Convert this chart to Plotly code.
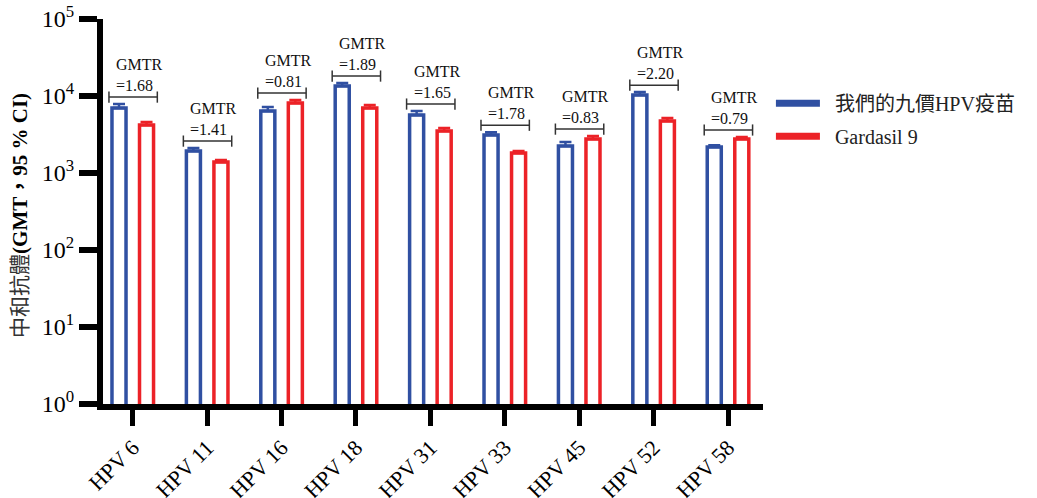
import numpy as np
import plotly.graph_objects as go

categories = ["HPV 6", "HPV 11", "HPV 16", "HPV 18", "HPV 31", "HPV 33", "HPV 45", "HPV 52", "HPV 58"]
ours_gmt = [6980, 1930, 6390, 13490, 5670, 3120, 2240, 10300, 2180]
ours_upper = [7870, 2110, 7190, 14750, 6390, 3390, 2520, 11240, 2300]
g9_gmt = [4200, 1390, 8110, 6980, 3510, 1820, 2760, 4730, 2760]
g9_upper = [4580, 1480, 8870, 7620, 3830, 1930, 3020, 5180, 2940]
gmtr = ["1.68", "1.41", "0.81", "1.89", "1.65", "1.78", "0.83", "2.20", "0.79"]
series_names = ["我們的九價HPV疫苗", "Gardasil 9"]
ytick_vals = [1, 10, 100, 1000, 10000, 100000]
ytick_text = ["10<sup>0</sup>", "10<sup>1</sup>", "10<sup>2</sup>", "10<sup>3</sup>", "10<sup>4</sup>", "10<sup>5</sup>"]
y_title = "<span style='color:#333'>中和抗體</span><b>(GMT，95 % CI)</b>"

BLUE = "#3050A2"
RED = "#EC2227"
SERIF = "Liberation Serif, Times New Roman, Noto Sans CJK TC, serif"

x = np.arange(len(categories))
ours = np.array(ours_gmt, float)
g9 = np.array(g9_gmt, float)
ours_err = np.array(ours_upper, float) - ours
g9_err = np.array(g9_upper, float) - g9

fig = go.Figure()
for k, (vals, err, col, name) in enumerate([(ours, ours_err, BLUE, series_names[0]), (g9, g9_err, RED, series_names[1])]):
    fig.add_trace(go.Bar(
        x=x, y=vals, name=name, showlegend=False,
        marker=dict(color="white", line=dict(color=col, width=3.5)),
        error_y=dict(type="data", symmetric=False, array=err, arrayminus=np.zeros_like(err),
                     color=col, thickness=2.5, width=6),
    ))
    fig.add_trace(go.Scatter(
        x=[None], y=[None], mode="lines", name="\u2002" + name, legendgroup=f"g{k}",
        line=dict(color=col, width=7),
    ))

# GMTR brackets
top = np.maximum(np.array(ours_upper, float), np.array(g9_upper, float))
bracket_y = top * 10 ** 0.09
for i in range(len(categories)):
    xl, xr = x[i] - 0.32, x[i] + 0.33
    fig.add_trace(go.Scatter(
        x=[xl, xr], y=[bracket_y[i], bracket_y[i]], mode="lines+markers",
        line=dict(color="#333333", width=1.5),
        marker=dict(symbol="line-ns-open", size=8, line=dict(color="#333333", width=1.5)),
        showlegend=False, hoverinfo="skip",
    ))
    fig.add_annotation(
        x=xl, y=np.log10(bracket_y[i]), xref="x", yref="y",
        text="GMTR<br>=" + gmtr[i], showarrow=False, align="left",
        xanchor="left", yanchor="bottom", xshift=5, yshift=1,
        font=dict(family=SERIF, size=16, color="#111111"),
    )

fig.add_annotation(
    x=-0.1258, y=0.491, xref="paper", yref="paper", text=y_title, textangle=-90,
    showarrow=False, xanchor="center", yanchor="middle",
    font=dict(family=SERIF, size=21, color="black"),
)

fig.update_layout(
    width=1037, height=498,
    margin=dict(l=103, r=274, t=19, b=94, autoexpand=False),
    plot_bgcolor="white", paper_bgcolor="white",
    barmode="group", bargap=0.26, bargroupgap=0.49,
    legend=dict(x=1.012, y=0.832, xanchor="left", yanchor="top",
                font=dict(family=SERIF, size=20, color="#222222"),
                tracegroupgap=4, itemwidth=44),
    showlegend=True,
)
fig.update_xaxes(
    range=[-0.40, 8.47], tickvals=x, ticktext=categories, tickangle=-45,
    showline=True, linecolor="black", linewidth=6, automargin=False,
    ticks="outside", ticklen=16, tickwidth=5, tickcolor="black",
    showgrid=False, zeroline=False, ticklabeloverflow="allow",
    tickfont=dict(family=SERIF, size=22, color="black"),
)
fig.update_yaxes(
    type="log", range=[0, 5], tickvals=ytick_vals, ticktext=ytick_text,
    showline=True, linecolor="black", linewidth=6, automargin=False,
    ticks="outside", ticklen=18, tickwidth=6, tickcolor="black",
    showgrid=False, zeroline=False, ticklabeloverflow="allow",
    tickfont=dict(family=SERIF, size=24, color="black"),
)

fig.write_html("out.html", config={"displayModeBar": False},
               post_script="document.body.style.margin='0';")
